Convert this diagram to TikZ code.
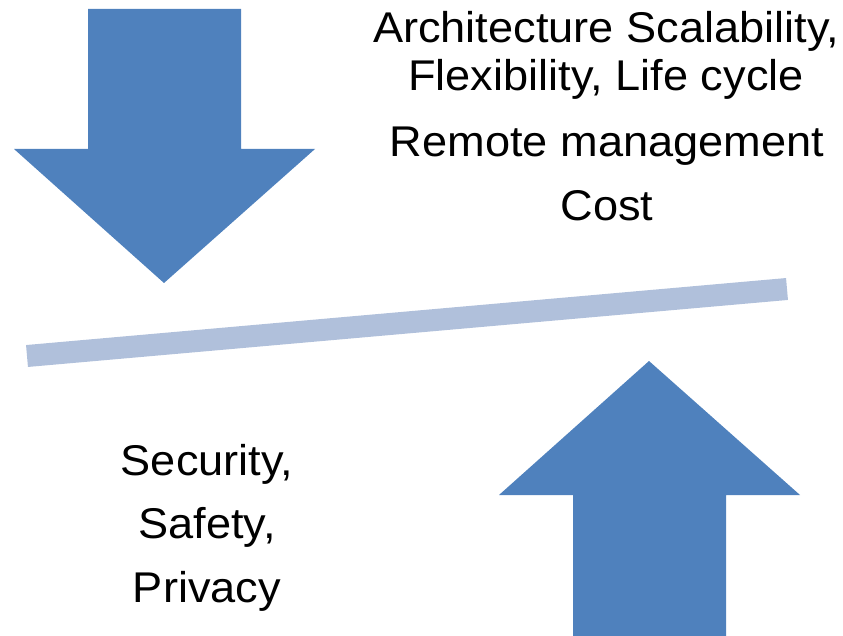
\documentclass[tikz,border=0pt]{standalone}
\usepackage{fontspec}
\setmainfont{Liberation Sans}
\definecolor{arrowblue}{RGB}{79,129,189}
\definecolor{barblue}{RGB}{176,192,219}
\begin{document}
\begin{tikzpicture}[x=1pt,y=-1pt,
  bigarrow/.style={fill=arrowblue,draw=none},
  label/.style={anchor=base,inner sep=0pt,xscale=1.05,font=\fontsize{43}{52}\selectfont}]
\useasboundingbox (0,0) rectangle (843,636);
% downward arrow
\fill[bigarrow] (88,9) -- (241,9) -- (241,149) -- (315,149) -- (164,283)
  -- (14,149) -- (88,149) -- cycle;
% upward arrow
\fill[bigarrow] (573,636) -- (726,636) -- (726,495) -- (800,495) -- (649,361)
  -- (499,495) -- (573,495) -- cycle;
% tilted beam
\coordinate (bl) at (27,356);
\coordinate (br) at (787,289);
\draw[barblue,line width=22pt] (bl) -- (br);
% labels
\node[label] (t1) at (606,43) {Architecture Scalability,};
\node[label] (t2) at (606,91) {Flexibility, Life cycle};
\node[label] (t3) at (607,157) {Remote management};
\node[label] (t4) at (607,221) {Cost};
\node[label] (b1) at (207,475) {Security,};
\node[label] (b2) at (207,538) {Safety,};
\node[label] (b3) at (207,602) {Privacy};
\end{tikzpicture}
\end{document}
